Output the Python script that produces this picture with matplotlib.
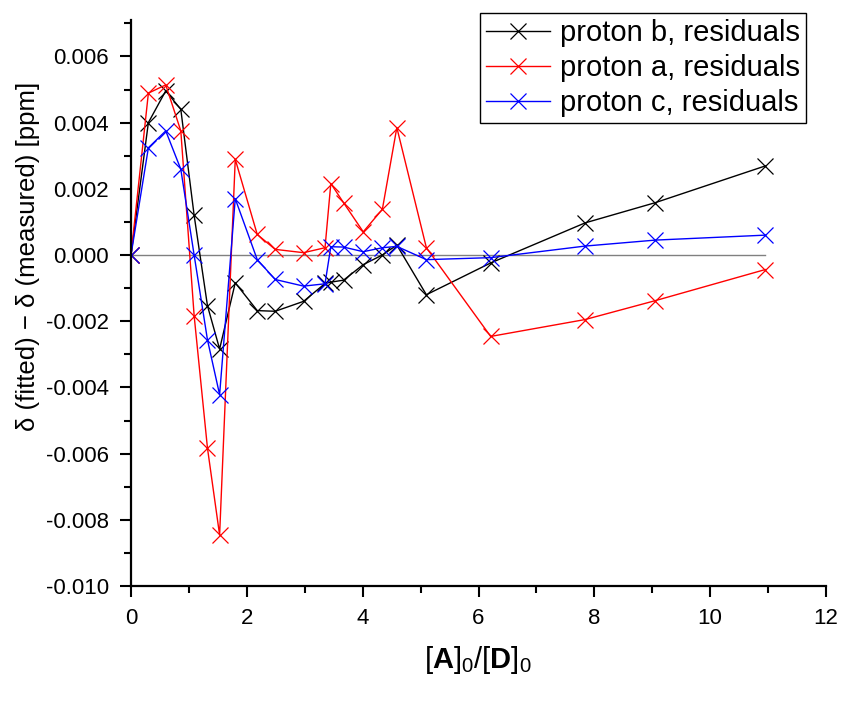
import numpy as np
import matplotlib
matplotlib.use("Agg")
import matplotlib.pyplot as plt
from matplotlib.ticker import MultipleLocator, FormatStrFormatter

plt.rcParams['font.family'] = ['Liberation Sans', 'DejaVu Sans']
plt.rcParams['mathtext.fontset'] = 'custom'
plt.rcParams['mathtext.rm'] = 'Liberation Sans'
plt.rcParams['mathtext.bf'] = 'Liberation Sans:bold'

# ratio [A]0/[D]0
ratio = [0, 0.30, 0.60, 0.86, 1.09, 1.32, 1.53, 1.80, 2.18, 2.49, 2.98,
         3.35, 3.45, 3.67, 4.01, 4.34, 4.59, 5.10, 6.21, 7.84, 9.05, 10.95]

resid_b = [0, 0.0040, 0.00496, 0.0044, 0.00120, -0.00153, -0.00284, -0.00084,
           -0.00168, -0.00170, -0.00140, -0.00086, -0.00082, -0.00076, -0.00029,
           0.0000, 0.00030, -0.00120, -0.00024, 0.00097, 0.00158, 0.00269]
resid_a = [0, 0.00489, 0.00514, 0.00375, -0.00183, -0.00583, -0.00846, 0.00289,
           0.00062, 0.00017, 0.00007, 0.00022, 0.00216, 0.00158, 0.00070,
           0.00138, 0.00385, 0.00022, -0.00246, -0.00195, -0.00138, -0.00044]
resid_c = [0, 0.00324, 0.00375, 0.00259, 0.0000, -0.00256, -0.00422, 0.00170,
           -0.00014, -0.00074, -0.00094, -0.00087, 0.00025, 0.00024, 0.00010,
           0.00022, 0.00026, -0.00014, -0.00008, 0.00027, 0.00045, 0.00060]

fig = plt.figure(figsize=(8.46, 7.02), dpi=100)
ax = fig.add_axes([131 / 846, 1 - 586 / 702, (826 - 131) / 846, (586 - 20) / 702])

# zero line over the data range
ax.plot([ratio[0], ratio[-1]], [0, 0], color='#808080', lw=1.0, zorder=1)

mk = dict(marker='x', markersize=11, markeredgewidth=0.9, lw=1.0)
ax.plot(ratio, resid_b, color='black', label='proton b, residuals', **mk)
ax.plot(ratio, resid_a, color='#ff0000', label='proton a, residuals', **mk)
ax.plot(ratio, resid_c, color='#0000ff', label='proton c, residuals', **mk)

ax.set_xlim(0, 12)
ax.set_ylim(-0.010, 0.0071)
ax.xaxis.set_major_locator(MultipleLocator(2))
ax.xaxis.set_minor_locator(MultipleLocator(1))
ax.yaxis.set_major_locator(MultipleLocator(0.002))
ax.yaxis.set_minor_locator(MultipleLocator(0.001))
ax.yaxis.set_major_formatter(FormatStrFormatter('%.3f'))

for s in ['top', 'right']:
    ax.spines[s].set_visible(False)
for s in ['left', 'bottom']:
    ax.spines[s].set_linewidth(1.6)
ax.tick_params(which='major', direction='out', length=8, width=1.5, labelsize=16, pad=8)
ax.tick_params(which='minor', direction='out', length=5, width=1.5)

ax.set_ylabel('δ (fitted) − δ (measured) [ppm]', fontsize=18.5, va='center')
ax.yaxis.set_label_coords(-0.148, 0.583)
ax.set_xlabel(r'$[\mathbf{A}]_0/[\mathbf{D}]_0$', fontsize=21, va='center')
ax.xaxis.set_label_coords(0.499, -0.131)

leg = ax.legend(loc='upper right', bbox_to_anchor=(806 / 846, 1 - 13 / 702),
                bbox_transform=fig.transFigure, borderaxespad=0, fontsize=21,
                fancybox=False, framealpha=1, edgecolor='black', handlelength=2.2,
                handletextpad=0.35, labelspacing=0.25, borderpad=0.2)
leg.get_frame().set_linewidth(1.0)

fig.savefig('out.png', dpi=100)
